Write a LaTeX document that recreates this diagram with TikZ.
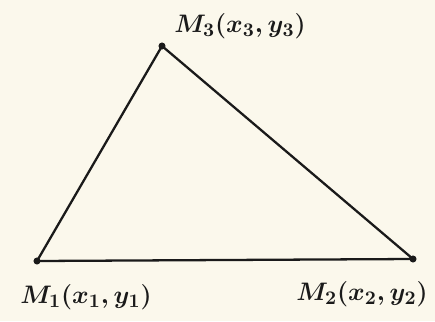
\documentclass[tikz,border=0pt]{standalone}
\usetikzlibrary{positioning}
\definecolor{inkDark}{HTML}{1A1A1A}
\definecolor{paperBg}{HTML}{FBF8EC}

\begin{document}
\begin{tikzpicture}[x=0.02cm, y=-0.02cm,
      vertex/.style={circle, fill=inkDark, inner sep=0pt, minimum size=4pt},
      lbl/.style={font=\fontsize{15.5}{18}\selectfont\boldmath, text=inkDark, inner sep=1pt},
      side/.style={draw=inkDark, line width=1.3pt, line join=round}]
    \fill[paperBg] (0,0) rectangle (435,321);
    \useasboundingbox (0,0) rectangle (435,321);

    \node[vertex] (m1) at (37,261) {};
    \node[vertex] (m2) at (413,259) {};
    \node[vertex] (m3) at (162,46) {};

    \node[lbl] (m1lbl) at (86,297) {$M_1(x_1,y_1)$};
    \node[lbl] (m2lbl) at (362,294) {$M_2(x_2,y_2)$};
    \node[lbl] (m3lbl) at (240,26) {$M_3(x_3,y_3)$};

    \draw[side] (m1.center) -- (m2.center) -- (m3.center) -- cycle;
  \end{tikzpicture}
\end{document}
